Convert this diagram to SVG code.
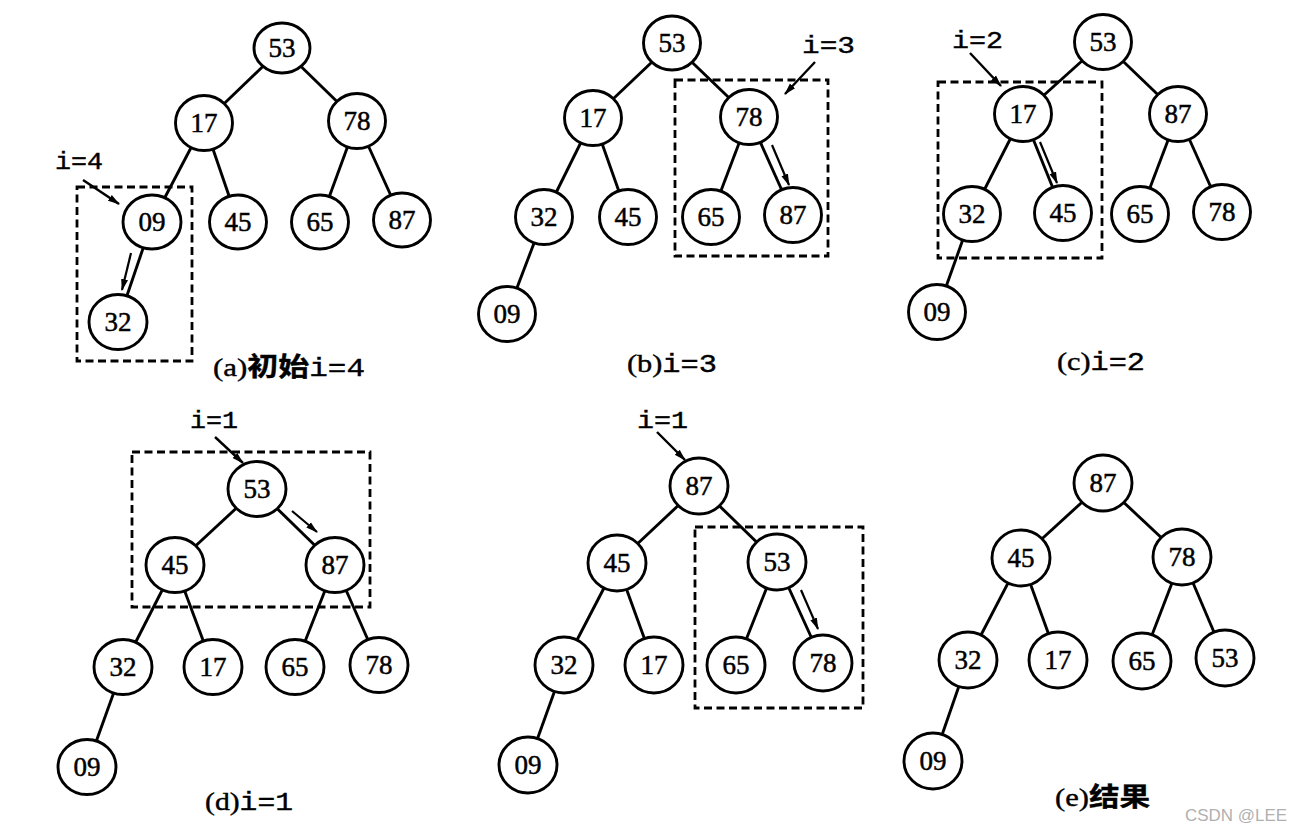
<svg xmlns="http://www.w3.org/2000/svg" width="1302" height="832" viewBox="0 0 1302 832">
<style>
.n ellipse{fill:#fff;stroke:#000;stroke-width:2.9}
.n text{font-family:"Liberation Serif","Times New Roman",serif;font-size:27px;text-anchor:middle;fill:#000;stroke:#000;stroke-width:0.5}
.e line{stroke:#000;stroke-width:2.9}
.sw{stroke:#000;stroke-width:2.2;fill:none;marker-end:url(#ah)}
.ptr{stroke:#000;stroke-width:2.4;fill:none;marker-end:url(#ah)}
.box{fill:none;stroke:#000;stroke-width:2.8;stroke-dasharray:8 4.5}
.lbl{font-family:"Liberation Mono","Courier New",monospace;font-size:24px;fill:#000;stroke:#000;stroke-width:0.4}
.cap{font-size:26px;fill:#000;stroke:#000;stroke-width:0.4}
.ser{font-family:"Liberation Serif","Times New Roman",serif}
.mono{font-family:"Liberation Mono","Courier New",monospace}
.cjk{font-family:"Noto Sans CJK SC","Noto Sans CJK JP",sans-serif;font-weight:bold}
</style>
<defs>
<marker id="ah" markerUnits="userSpaceOnUse" markerWidth="12" markerHeight="10" refX="11" refY="5" orient="auto">
<path d="M0,1.5 L12,5 L0,8.5 Z" fill="#000"/>
</marker>
</defs>
<rect width="1302" height="832" fill="#fff"/>

<g id="connectors">
<g class="e">
<!-- (a) -->
<line x1="282" y1="48" x2="204" y2="123"/><line x1="282" y1="48" x2="357" y2="121"/>
<line x1="204" y1="123" x2="152" y2="222"/><line x1="204" y1="123" x2="238" y2="222"/>
<line x1="357" y1="121" x2="320" y2="222"/><line x1="357" y1="121" x2="402" y2="220"/>
<line x1="152" y1="222" x2="118" y2="322"/>
<!-- (b) -->
<line x1="672" y1="43" x2="593" y2="118"/><line x1="672" y1="43" x2="749" y2="117"/>
<line x1="593" y1="118" x2="544" y2="217"/><line x1="593" y1="118" x2="628" y2="217"/>
<line x1="749" y1="117" x2="711" y2="217"/><line x1="749" y1="117" x2="793" y2="215"/>
<line x1="544" y1="217" x2="507" y2="314"/>
<!-- (c) -->
<line x1="1103" y1="42" x2="1023" y2="114"/><line x1="1103" y1="42" x2="1178" y2="114"/>
<line x1="1023" y1="114" x2="972" y2="214"/><line x1="1023" y1="114" x2="1063" y2="213"/>
<line x1="1178" y1="114" x2="1140" y2="214"/><line x1="1178" y1="114" x2="1222" y2="212"/>
<line x1="972" y1="214" x2="937" y2="312"/>
<!-- (d) -->
<line x1="257" y1="489" x2="175" y2="565"/><line x1="257" y1="489" x2="335" y2="565"/>
<line x1="175" y1="565" x2="123" y2="667"/><line x1="175" y1="565" x2="213" y2="667"/>
<line x1="335" y1="565" x2="295" y2="667"/><line x1="335" y1="565" x2="379" y2="665"/>
<line x1="123" y1="667" x2="87" y2="767"/>
<!-- (d2) -->
<line x1="699" y1="486" x2="617" y2="563"/><line x1="699" y1="486" x2="777" y2="562"/>
<line x1="617" y1="563" x2="564" y2="665"/><line x1="617" y1="563" x2="654" y2="665"/>
<line x1="777" y1="562" x2="736" y2="665"/><line x1="777" y1="562" x2="823" y2="663"/>
<line x1="564" y1="665" x2="528" y2="765"/>
<!-- (e) -->
<line x1="1103" y1="483" x2="1021" y2="558"/><line x1="1103" y1="483" x2="1182" y2="557"/>
<line x1="1021" y1="558" x2="968" y2="660"/><line x1="1021" y1="558" x2="1058" y2="660"/>
<line x1="1182" y1="557" x2="1142" y2="661"/><line x1="1182" y1="557" x2="1225" y2="658"/>
<line x1="968" y1="660" x2="933" y2="761"/>
</g>
<!-- swap arrows -->
<line class="sw" x1="131" y1="253" x2="122" y2="290"/>
<line class="sw" x1="772" y1="145" x2="789" y2="185"/>
<line class="sw" x1="1040" y1="142" x2="1057" y2="183"/>
<line class="sw" x1="292" y1="511" x2="317" y2="532"/>
<line class="sw" x1="801" y1="590" x2="818" y2="629"/>
<!-- pointer arrows -->
<line class="ptr" x1="83" y1="180" x2="119" y2="204"/>
<line class="ptr" x1="815" y1="62" x2="785" y2="94"/>
<line class="ptr" x1="970" y1="53" x2="1001" y2="86"/>
<line class="ptr" x1="215" y1="437" x2="243" y2="463"/>
<line class="ptr" x1="657" y1="432" x2="685" y2="460"/>
</g>

<g id="nodes-a">
<g id="a-53" class="n"><ellipse cx="282" cy="48" rx="28" ry="25"/><text x="282" y="57">53</text></g>
<g id="a-17" class="n"><ellipse cx="204" cy="123" rx="28.5" ry="27.5"/><text x="204" y="132">17</text></g>
<g id="a-78" class="n"><ellipse cx="357" cy="121" rx="28.5" ry="27.5"/><text x="357" y="130">78</text></g>
<g id="a-09" class="n"><ellipse cx="152" cy="222" rx="29" ry="27"/><text x="152" y="231">09</text></g>
<g id="a-45" class="n"><ellipse cx="238" cy="222" rx="28.5" ry="27"/><text x="238" y="231">45</text></g>
<g id="a-65" class="n"><ellipse cx="320" cy="222" rx="28.5" ry="27"/><text x="320" y="231">65</text></g>
<g id="a-87" class="n"><ellipse cx="402" cy="220" rx="28.5" ry="27"/><text x="402" y="229">87</text></g>
<g id="a-32" class="n"><ellipse cx="118" cy="322" rx="29" ry="27.5"/><text x="118" y="331">32</text></g>
</g>

<g id="nodes-b">
<g id="b-53" class="n"><ellipse cx="672" cy="43" rx="28.5" ry="27"/><text x="672" y="52">53</text></g>
<g id="b-17" class="n"><ellipse cx="593" cy="118" rx="28.5" ry="27.5"/><text x="593" y="127">17</text></g>
<g id="b-78" class="n"><ellipse cx="749" cy="117" rx="28.5" ry="27.5"/><text x="749" y="126">78</text></g>
<g id="b-32" class="n"><ellipse cx="544" cy="217" rx="28.5" ry="27.5"/><text x="544" y="226">32</text></g>
<g id="b-45" class="n"><ellipse cx="628" cy="217" rx="28.5" ry="27.5"/><text x="628" y="226">45</text></g>
<g id="b-65" class="n"><ellipse cx="711" cy="217" rx="28.5" ry="27.5"/><text x="711" y="226">65</text></g>
<g id="b-87" class="n"><ellipse cx="793" cy="215" rx="28.5" ry="27.5"/><text x="793" y="224">87</text></g>
<g id="b-09" class="n"><ellipse cx="507" cy="314" rx="28.5" ry="27.5"/><text x="507" y="323">09</text></g>
</g>

<g id="nodes-c">
<g id="c-53" class="n"><ellipse cx="1103" cy="42" rx="28.5" ry="27.5"/><text x="1103" y="51">53</text></g>
<g id="c-17" class="n"><ellipse cx="1023" cy="114" rx="28.5" ry="27.5"/><text x="1023" y="123">17</text></g>
<g id="c-87" class="n"><ellipse cx="1178" cy="114" rx="28.5" ry="27.5"/><text x="1178" y="123">87</text></g>
<g id="c-32" class="n"><ellipse cx="972" cy="214" rx="28.5" ry="27.5"/><text x="972" y="223">32</text></g>
<g id="c-45" class="n"><ellipse cx="1063" cy="213" rx="28.5" ry="27.5"/><text x="1063" y="222">45</text></g>
<g id="c-65" class="n"><ellipse cx="1140" cy="214" rx="28.5" ry="27.5"/><text x="1140" y="223">65</text></g>
<g id="c-78" class="n"><ellipse cx="1222" cy="212" rx="28.5" ry="27.5"/><text x="1222" y="221">78</text></g>
<g id="c-09" class="n"><ellipse cx="937" cy="312" rx="28.5" ry="27.5"/><text x="937" y="321">09</text></g>
</g>

<g id="nodes-d">
<g id="d-53" class="n"><ellipse cx="257" cy="489" rx="29" ry="27.5"/><text x="257" y="498">53</text></g>
<g id="d-45" class="n"><ellipse cx="175" cy="565" rx="29" ry="27.5"/><text x="175" y="574">45</text></g>
<g id="d-87" class="n"><ellipse cx="335" cy="565" rx="29" ry="27.5"/><text x="335" y="574">87</text></g>
<g id="d-32" class="n"><ellipse cx="123" cy="667" rx="29" ry="27.5"/><text x="123" y="676">32</text></g>
<g id="d-17" class="n"><ellipse cx="213" cy="667" rx="29" ry="27.5"/><text x="213" y="676">17</text></g>
<g id="d-65" class="n"><ellipse cx="295" cy="667" rx="29" ry="27.5"/><text x="295" y="676">65</text></g>
<g id="d-78" class="n"><ellipse cx="379" cy="665" rx="29" ry="27.5"/><text x="379" y="674">78</text></g>
<g id="d-09" class="n"><ellipse cx="87" cy="767" rx="29" ry="27.5"/><text x="87" y="776">09</text></g>
</g>

<g id="nodes-d2">
<g id="d2-87" class="n"><ellipse cx="699" cy="486" rx="29" ry="28"/><text x="699" y="495">87</text></g>
<g id="d2-45" class="n"><ellipse cx="617" cy="563" rx="29" ry="28"/><text x="617" y="572">45</text></g>
<g id="d2-53" class="n"><ellipse cx="777" cy="562" rx="29" ry="28"/><text x="777" y="571">53</text></g>
<g id="d2-32" class="n"><ellipse cx="564" cy="665" rx="29" ry="28"/><text x="564" y="674">32</text></g>
<g id="d2-17" class="n"><ellipse cx="654" cy="665" rx="29" ry="28"/><text x="654" y="674">17</text></g>
<g id="d2-65" class="n"><ellipse cx="736" cy="665" rx="29" ry="28"/><text x="736" y="674">65</text></g>
<g id="d2-78" class="n"><ellipse cx="823" cy="663" rx="29" ry="28"/><text x="823" y="672">78</text></g>
<g id="d2-09" class="n"><ellipse cx="528" cy="765" rx="29" ry="28"/><text x="528" y="774">09</text></g>
</g>

<g id="nodes-e">
<g id="e-87" class="n"><ellipse cx="1103" cy="483" rx="29" ry="28"/><text x="1103" y="492">87</text></g>
<g id="e-45" class="n"><ellipse cx="1021" cy="558" rx="29" ry="28"/><text x="1021" y="567">45</text></g>
<g id="e-78" class="n"><ellipse cx="1182" cy="557" rx="29" ry="28"/><text x="1182" y="566">78</text></g>
<g id="e-32" class="n"><ellipse cx="968" cy="660" rx="29" ry="28"/><text x="968" y="669">32</text></g>
<g id="e-17" class="n"><ellipse cx="1058" cy="660" rx="29" ry="28"/><text x="1058" y="669">17</text></g>
<g id="e-65" class="n"><ellipse cx="1142" cy="661" rx="29" ry="28"/><text x="1142" y="670">65</text></g>
<g id="e-53" class="n"><ellipse cx="1225" cy="658" rx="29" ry="28"/><text x="1225" y="667">53</text></g>
<g id="e-09" class="n"><ellipse cx="933" cy="761" rx="29" ry="28"/><text x="933" y="770">09</text></g>
</g>

<g id="boxes">
<rect class="box" x="77" y="187" width="115" height="174"/>
<rect class="box" x="675" y="80" width="153" height="176"/>
<rect class="box" x="938" y="82" width="164" height="176"/>
<rect class="box" x="132" y="452" width="238" height="155"/>
<rect class="box" x="695" y="527" width="168" height="181"/>
</g>

<g id="labels">
<text class="lbl" x="55" y="169" textLength="48" lengthAdjust="spacingAndGlyphs">i=4</text>
<text class="lbl" x="802" y="53" textLength="53" lengthAdjust="spacingAndGlyphs">i=3</text>
<text class="lbl" x="952" y="48" textLength="51" lengthAdjust="spacingAndGlyphs">i=2</text>
<text class="lbl" x="190" y="428" textLength="48" lengthAdjust="spacingAndGlyphs">i=1</text>
<text class="lbl" x="637" y="428" textLength="51" lengthAdjust="spacingAndGlyphs">i=1</text>

<text class="cap" x="213" y="376" textLength="152" lengthAdjust="spacingAndGlyphs"><tspan class="ser">(a)</tspan><tspan class="cjk">初始</tspan><tspan class="mono">i=4</tspan></text>
<text class="cap" x="627" y="372" textLength="90" lengthAdjust="spacingAndGlyphs"><tspan class="ser">(b)</tspan><tspan class="mono">i=3</tspan></text>
<text class="cap" x="1057" y="370" textLength="88" lengthAdjust="spacingAndGlyphs"><tspan class="ser">(c)</tspan><tspan class="mono">i=2</tspan></text>
<text class="cap" x="205" y="810" textLength="88" lengthAdjust="spacingAndGlyphs"><tspan class="ser">(d)</tspan><tspan class="mono">i=1</tspan></text>
<text class="cap" x="1055" y="806" textLength="95" lengthAdjust="spacingAndGlyphs"><tspan class="ser">(e)</tspan><tspan class="cjk">结果</tspan></text>
<text x="1185" y="821" font-family="'Liberation Sans','Noto Sans',sans-serif" font-size="16.5" fill="#b0b0b0" textLength="102" lengthAdjust="spacingAndGlyphs">CSDN @LEE</text>
</g>
</svg>
